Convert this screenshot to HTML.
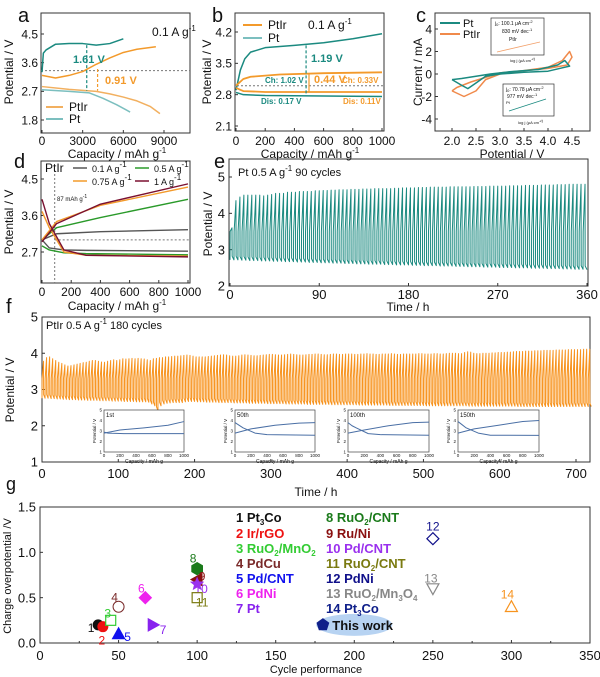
<!DOCTYPE html>
<html><head><meta charset="utf-8"><style>
html,body{margin:0;padding:0;background:#fff;}
svg{display:block;font-family:"Liberation Sans",Arial,sans-serif;}
</style></head><body>
<svg id="fig" width="600" height="677" viewBox="0 0 600 677"></svg>
<script>
// ---------- data ----------
// panel a
const aPtChgX=[0,100,300,1000,2000,3000,4000,5000,6000];
const aPtChgY=[3.3,3.9,4.0,4.18,4.2,4.2,4.15,4.2,4.35];
const aIrChgX=[0,1000,2000,3000,4000,5000,6000,7000,8400];
const aIrChgY=[3.2,3.12,3.2,3.32,3.55,3.75,3.92,4.02,4.1];
const aIrDisX=[0,2000,4000,5000,6000,7000,8000,8700];
const aIrDisY=[2.85,2.76,2.7,2.62,2.52,2.4,2.22,2.0];
const aPtDisX=[0,2000,3500,4500,5500,6500];
const aPtDisY=[2.75,2.7,2.65,2.48,2.28,2.05];
// panel b
const bPtChgX=[0,30,60,100,200,400,600,800,1000];
const bPtChgY=[2.9,3.35,3.6,3.75,3.85,3.9,3.96,4.05,4.16];
const bIrChgX=[0,50,100,300,600,1000];
const bIrChgY=[3.0,3.15,3.2,3.25,3.28,3.3];
const bIrDisX=[0,50,200,1000];
const bIrDisY=[2.95,2.88,2.86,2.86];
const bPtDisX=[0,50,200,1000];
const bPtDisY=[2.85,2.8,2.78,2.76];
// panel c (CV loops)
const cPtV=[2.0,2.2,2.33,2.5,2.7,3.0,3.5,4.0,4.3,4.45,4.35,4.2,3.8,3.2,2.8,2.5,2.2,2.0];
const cPtI=[-0.5,-1.0,-1.3,-0.8,-0.2,0.0,0.15,0.25,0.55,0.7,1.2,0.8,0.4,0.2,0.0,-0.2,-0.4,-0.5];
const cIrV=[2.0,2.25,2.5,2.7,3.0,3.5,4.0,4.3,4.45,4.5,4.4,4.0,3.5,3.0,2.7,2.4,2.1,2.0];
const cIrI=[-1.5,-2.0,-1.5,-0.5,0.0,0.3,0.6,1.2,2.0,1.5,0.8,0.5,0.3,0.1,-0.3,-0.7,-1.2,-1.5];
// panel d
const dCap=[0,100,400,1000];
const dChg01=[3.0,3.15,3.2,3.25];
const dChg05=[3.0,3.3,3.55,4.0];
const dChg075=[3.0,3.45,3.85,4.3];
const dChg1=[2.95,3.4,3.88,4.38];
const dDisCap=[0,50,150,300,1000];
const dDis01=[3.0,2.8,2.75,2.74,2.72];
const dDis05=[2.85,2.75,2.68,2.66,2.63];
const dDis075=[3.7,3.3,2.7,2.62,2.6];
const dDis1=[4.0,3.4,2.75,2.62,2.58];
// panel e: Pt 90 cycles (4 h each)
const eUpper=[3.6,4.35,4.45,4.5,4.5,4.5,4.5,4.5,4.48,4.5,
4.52,4.55,4.55,4.55,4.58,4.58,4.58,4.6,4.6,4.6,
4.6,4.62,4.62,4.63,4.63,4.64,4.64,4.65,4.65,4.65,
4.66,4.66,4.66,4.67,4.67,4.67,4.68,4.68,4.68,4.68,
4.68,4.69,4.69,4.7,4.7,4.7,4.7,4.71,4.71,4.71,
4.72,4.72,4.72,4.72,4.72,4.73,4.73,4.73,4.73,4.73,
4.73,4.74,4.74,4.74,4.74,4.75,4.75,4.75,4.75,4.75,
4.76,4.76,4.76,4.76,4.77,4.77,4.77,4.77,4.78,4.78,
4.78,4.78,4.79,4.79,4.79,4.8,4.8,4.8,4.8,4.8];
const eLower=[2.72,2.72,2.71,2.71,2.7,2.7,2.7,2.69,2.69,2.69,
2.68,2.68,2.68,2.67,2.67,2.67,2.66,2.66,2.66,2.65,
2.65,2.65,2.64,2.64,2.64,2.63,2.63,2.63,2.62,2.62,
2.62,2.61,2.61,2.61,2.6,2.6,2.6,2.6,2.59,2.59,
2.59,2.58,2.58,2.58,2.58,2.57,2.57,2.57,2.56,2.56,
2.56,2.56,2.55,2.55,2.55,2.55,2.54,2.54,2.54,2.53,
2.53,2.53,2.53,2.52,2.52,2.52,2.52,2.51,2.51,2.51,
2.51,2.5,2.5,2.5,2.5,2.49,2.49,2.49,2.49,2.48,
2.48,2.48,2.48,2.47,2.47,2.47,2.46,2.46,2.46,2.45];
// panel f: PtIr 180 cycles (4 h each)
const fUpper=[3.78,3.88,3.9,3.85,3.8,3.75,3.72,3.68,3.65,3.66,
3.68,3.7,3.72,3.74,3.75,3.78,3.8,3.8,3.78,3.76,
3.75,3.78,3.8,3.82,3.8,3.82,3.85,3.84,3.85,3.86,
3.85,3.86,3.85,3.84,3.82,3.8,3.85,3.86,3.88,3.88,
3.9,3.9,3.91,3.92,3.92,3.93,3.94,3.95,3.94,3.92,
3.9,3.9,3.9,3.9,3.91,3.92,3.93,3.94,3.95,3.96,
3.95,3.93,3.92,3.92,3.93,3.95,3.96,3.95,3.94,3.93,
3.93,3.94,3.95,3.96,3.97,3.97,3.96,3.95,3.95,3.96,
3.97,3.98,3.97,3.96,3.95,3.95,3.96,3.97,3.97,3.98,
3.98,3.97,3.96,3.96,3.97,3.98,3.98,3.97,3.97,3.98,
3.98,3.98,3.97,3.97,3.98,3.98,3.99,3.98,3.98,3.97,
3.97,3.98,3.98,3.98,3.99,3.98,3.97,3.97,3.98,3.98,
3.98,3.98,3.98,3.99,3.99,3.98,3.98,3.98,3.99,3.99,
3.98,3.98,3.99,4.0,4.0,4.0,3.99,3.99,4.02,4.04,
4.03,4.0,3.99,3.99,4.0,4.0,4.0,4.01,4.01,4.02,
4.02,4.02,4.03,4.03,4.04,4.05,4.05,4.05,4.06,4.06,
4.06,4.07,4.07,4.07,4.08,4.08,4.08,4.08,4.09,4.09,
4.09,4.09,4.1,4.1,4.1,4.1,4.1,4.11,4.11,4.11];
const fLower=[2.76,2.76,2.75,2.75,2.74,2.74,2.73,2.73,2.72,2.72,
2.72,2.71,2.71,2.71,2.7,2.7,2.7,2.7,2.69,2.69,
2.69,2.69,2.68,2.68,2.68,2.68,2.67,2.67,2.67,2.67,
2.66,2.66,2.66,2.66,2.65,2.6,2.55,2.42,2.55,2.6,
2.62,2.63,2.64,2.64,2.64,2.64,2.66,2.67,2.67,2.67,
2.66,2.66,2.66,2.65,2.65,2.65,2.65,2.64,2.64,2.64,
2.64,2.64,2.63,2.63,2.63,2.63,2.63,2.62,2.62,2.62,
2.62,2.62,2.62,2.61,2.61,2.61,2.61,2.61,2.61,2.6,
2.6,2.6,2.6,2.6,2.6,2.6,2.59,2.59,2.59,2.59,
2.59,2.59,2.59,2.59,2.58,2.58,2.58,2.58,2.58,2.58,
2.58,2.58,2.58,2.57,2.57,2.57,2.57,2.57,2.57,2.57,
2.57,2.57,2.57,2.56,2.56,2.56,2.56,2.56,2.56,2.56,
2.56,2.56,2.56,2.56,2.56,2.55,2.55,2.55,2.55,2.55,
2.55,2.55,2.55,2.55,2.55,2.55,2.55,2.55,2.55,2.54,
2.54,2.54,2.54,2.54,2.54,2.54,2.54,2.54,2.54,2.54,
2.54,2.54,2.54,2.54,2.54,2.53,2.53,2.53,2.53,2.53,
2.53,2.53,2.53,2.53,2.53,2.53,2.53,2.53,2.53,2.53,
2.53,2.53,2.53,2.53,2.53,2.53,2.53,2.53,2.53,2.53];
// f insets
const insNames=['1st','50th','100th','150th'];
const insChgCap=[0,200,500,800,1000];
const insChgV=[[2.8,3.1,3.3,3.55,3.9],[2.8,3.2,3.55,3.75,3.8],[2.8,3.1,3.5,3.8,3.85],[2.8,3.2,3.55,3.9,4.0]];
const insDisCap=[0,50,100,250,400,1000];
const insDisV=[[2.9,2.8,2.78,2.75,2.75,2.75],[3.8,3.55,3.3,2.8,2.65,2.6],[3.8,3.5,3.3,2.75,2.65,2.6],[3.9,3.6,3.3,2.8,2.6,2.58]];
// panel g
const gCycles=[37,40,45,50,50,67,72,100,100,100,100,250,250,300,180];
const gOver=[0.2,0.18,0.25,0.4,0.1,0.5,0.2,0.82,0.7,0.65,0.5,1.15,0.6,0.4,0.2];
const gIds=['1','2','3','4','5','6','7','8','9','10','11','12','13','14',''];
const gXTicks=[0,50,100,150,200,250,300,350];
const gYTicks=[0,0.5,1.0,1.5];

// ---------- helpers ----------
const svg=document.getElementById('fig');
const NS='http://www.w3.org/2000/svg';
function mk(tag,attrs,parent){const e=document.createElementNS(NS,tag);for(const k in attrs)e.setAttribute(k,attrs[k]);(parent||svg).appendChild(e);return e;}
function lin(d0,d1,r0,r1){return v=>r0+(v-d0)/(d1-d0)*(r1-r0);}
function T(s,x,y,size,anchor,fill,parent,weight){const e=mk('text',{x:x,y:y,'font-size':size,'text-anchor':anchor||'start',fill:fill||'#111','font-weight':weight||'normal'},parent);e.innerHTML=s;return e;}
function pathD(xs,ys,sx,sy){return xs.map((v,i)=>(i?'L':'M')+sx(v).toFixed(2)+' '+sy(ys[i]).toFixed(2)).join(' ');}
function series(xs,ys,sx,sy,color,w,parent,dash){return mk('path',{d:pathD(xs,ys,sx,sy),fill:'none',stroke:color,'stroke-width':w,'stroke-linejoin':'round','stroke-dasharray':dash||'none'},parent);}
const SUP='<tspan dy="-5" font-size="8">-1</tspan>';
function axes(g,fr,sx,xt,xl,sy,yt,yl,fs,gap,lbY){
  mk('rect',{x:fr[0],y:fr[2],width:fr[1]-fr[0],height:fr[3]-fr[2],fill:'none',stroke:'#333','stroke-width':1},g);
  xt.forEach((v,i)=>{const x=sx(v);mk('line',{x1:x,x2:x,y1:fr[3],y2:fr[3]-3,stroke:'#333'},g);T(xl[i],x,lbY||(fr[3]+fs+2),fs,'middle','#111',g);});
  yt.forEach((v,i)=>{const y=sy(v);mk('line',{x1:fr[0],x2:fr[0]+3,y1:y,y2:y,stroke:'#333'},g);T(yl[i],fr[0]-(gap||3),y+fs*0.36,fs,'end','#111',g);});
}
function ytitle(s,x,y,g,fs){const e=T(s,x,y,fs||12,'middle','#111',g);e.setAttribute('transform','rotate(-90 '+x+' '+y+')');return e;}
const TEAL='#1b8a80', ORANGE='#f39a2b', PTDIS='#7cbfbf';

// ---------- panel a ----------
const ga=mk('g',{});


{const sx=lin(0,9000,42,164),sy=lin(1.8,4.5,120,34);
axes(ga,[41,190,13,133],sx,[0,3000,6000,9000],['0','3000','6000','9000'],sy,[1.8,2.7,3.6,4.5],['1.8','2.7','3.6','4.5'],12,3,145);
mk('line',{x1:41,x2:190,y1:sy(3.35),y2:sy(3.35),stroke:'#777','stroke-dasharray':'2 2'},ga);
let s=series(aPtChgX,aPtChgY,sx,sy,TEAL,1.5,ga);
s=series(aIrChgX,aIrChgY,sx,sy,ORANGE,1.5,ga);
s=series(aIrDisX,aIrDisY,sx,sy,'#f2b060',1.5,ga);
s=series(aPtDisX,aPtDisY,sx,sy,PTDIS,1.5,ga);
mk('line',{x1:sx(3300),x2:sx(3300),y1:sy(4.15),y2:sy(2.72),stroke:TEAL,'stroke-dasharray':'3 2','stroke-width':1.2},ga);
mk('line',{x1:sx(4100),x2:sx(4100),y1:sy(3.4),y2:sy(2.72),stroke:ORANGE,'stroke-dasharray':'3 2','stroke-width':1.2},ga);
T('1.61 V',73,63,11,'start',TEAL,ga,'bold');T('0.91 V',105,84,11,'start',ORANGE,ga,'bold');
T('0.1 A g'+SUP,152,36,12,'start','#111',ga);
mk('line',{x1:46,x2:63,y1:107,y2:107,stroke:'#f2b060','stroke-width':2},ga);T('PtIr',69,111,12,'start','#111',ga);
mk('line',{x1:46,x2:63,y1:119,y2:119,stroke:PTDIS,'stroke-width':2},ga);T('Pt',69,123,12,'start','#111',ga);
T('Capacity / mAh g'+SUP,117,158,12,'middle','#111',ga);ytitle('Potential / V',13,72,ga);
T('a',18,22,20,'start','#111',ga);}

// ---------- panel b ----------
const gb=mk('g',{});


{const sx=lin(0,1000,236,382),sy=lin(2.1,4.2,126,32);
axes(gb,[235,384,13,131],sx,[0,200,400,600,800,1000],['0','200','400','600','800','1000'],sy,[2.1,2.8,3.5,4.2],['2.1','2.8','3.5','4.2'],12,3,145);
mk('line',{x1:237,x2:384,y1:sy(3.0),y2:sy(3.0),stroke:'#777','stroke-dasharray':'2 2'},gb);
let s=series(bPtChgX,bPtChgY,sx,sy,TEAL,1.5,gb);
s=series(bIrChgX,bIrChgY,sx,sy,ORANGE,1.8,gb);
s=series(bIrDisX,bIrDisY,sx,sy,ORANGE,1.8,gb);
s=series(bPtDisX,bPtDisY,sx,sy,TEAL,1.5,gb);
mk('line',{x1:sx(480),x2:sx(480),y1:sy(3.9),y2:sy(2.78),stroke:TEAL,'stroke-dasharray':'3 2','stroke-width':1.2},gb);
mk('line',{x1:sx(500),x2:sx(500),y1:sy(3.27),y2:sy(2.87),stroke:ORANGE,'stroke-width':1.2},gb);
T('1.19 V',311,62,11,'start',TEAL,gb,'bold');
T('Ch: 1.02 V',265,83,8,'start',TEAL,gb,'bold');T('0.44 V',314,83,11,'start',ORANGE,gb,'bold');T('Ch: 0.33V',342,83,8,'start',ORANGE,gb,'bold');
T('Dis:  0.17 V',261,104,8,'start',TEAL,gb,'bold');T('Dis: 0.11V',343,104,8,'start',ORANGE,gb,'bold');
mk('line',{x1:243,x2:262,y1:25,y2:25,stroke:ORANGE,'stroke-width':2},gb);T('PtIr',268,29,12,'start','#111',gb);
mk('line',{x1:243,x2:262,y1:38,y2:38,stroke:PTDIS,'stroke-width':2},gb);T('Pt',268,42,12,'start','#111',gb);
T('0.1 A g'+SUP,308,29,12,'start','#111',gb);
T('Capacity / mAh g'+SUP,310,158,12,'middle','#111',gb);ytitle('Potential / V',211,72,gb);
T('b',212,22,20,'start','#111',gb);}

// ---------- panel c ----------
const gc=mk('g',{});


{const sx=lin(2.0,4.5,452,572),sy=lin(-4,4,119,29);
axes(gc,[435,590,13,131],sx,[2.0,2.5,3.0,3.5,4.0,4.5],['2.0','2.5','3.0','3.5','4.0','4.5'],sy,[-4,-2,0,2,4],['-4','-2','0','2','4'],12,3,145);
let s=series(cIrV,cIrI,sx,sy,'#f08a4b',1.5,gc);
s=series(cPtV,cPtI,sx,sy,TEAL,1.5,gc);
mk('line',{x1:440,x2:460,y1:23,y2:23,stroke:TEAL,'stroke-width':2},gc);T('Pt',463,27,11,'start','#111',gc);
mk('line',{x1:440,x2:460,y1:34,y2:34,stroke:'#f08a4b','stroke-width':2},gc);T('PtIr',463,38,11,'start','#111',gc);
mk('rect',{x:491,y:18,width:53,height:37,fill:'#fff',stroke:'#333','stroke-width':0.7},gc);
T('j<tspan dy="1" font-size="4">0</tspan><tspan dy="-1">: 100.1 μA cm</tspan><tspan dy="-2" font-size="4">-2</tspan>',495,25,5,'start','#111',gc);
T('830 mV dec<tspan dy="-2" font-size="4">-1</tspan>',502,33,5,'start','#111',gc);T('PtIr',509,41,5,'start','#111',gc);
mk('line',{x1:497,x2:540,y1:52,y2:42,stroke:'#f2a06a','stroke-width':0.8},gc);
T('log j (μA cm<tspan dy="-2" font-size="3">-2</tspan>)',510,62,4,'start','#111',gc);
mk('rect',{x:503,y:84,width:51,height:32,fill:'#fff',stroke:'#333','stroke-width':0.7},gc);
T('j<tspan dy="1" font-size="4">0</tspan><tspan dy="-1">: 70.78 μA cm</tspan><tspan dy="-2" font-size="4">-2</tspan>',506,91,5,'start','#111',gc);
T('977 mV dec<tspan dy="-2" font-size="4">-1</tspan>',507,98,5,'start','#111',gc);T('Pt',506,104,4,'start','#111',gc);
mk('line',{x1:509,x2:546,y1:111,y2:99,stroke:TEAL,'stroke-width':0.8},gc);
T('log j (μA cm<tspan dy="-2" font-size="3">-2</tspan>)',518,124,4,'start','#111',gc);
T('Potential / V',512,158,12,'middle','#111',gc);ytitle('Current / mA',422,72,gc);
T('c',416,22,20,'start','#111',gc);}

// ---------- panel d ----------
const gd=mk('g',{});


{const sx=lin(0,1000,42,188),sy=lin(2.7,4.5,252,179);
axes(gd,[41,190,161,283],sx,[0,200,400,600,800,1000],['0','200','400','600','800','1000'],sy,[2.7,3.6,4.5],['2.7','3.6','4.5'],12,3,296);
mk('line',{x1:sx(87),x2:190,y1:sy(3.0),y2:sy(3.0),stroke:'#777','stroke-dasharray':'2 2'},gd);
mk('line',{x1:sx(87),x2:sx(87),y1:170,y2:283,stroke:'#777','stroke-dasharray':'2 2'},gd);
const cols=['#555','#2a9a2a',ORANGE,'#7a1030'];
const chg=[dChg01,dChg05,dChg075,dChg1],dis=[dDis01,dDis05,dDis075,dDis1],nm=['0-1','0-5','0-75','1'];
for(let i=0;i<4;i++){
 let s=series(dCap,chg[i],sx,sy,cols[i],1.4,gd);
 s=series(dDisCap,dis[i],sx,sy,cols[i],1.4,gd);}
T('PtIr',45,172,12,'start','#111',gd);
const lt=['0.1 A g'+SUP,'0.5 A g'+SUP,'0.75 A g'+SUP,'1 A g'+SUP],lx=[73,135,73,135],ly=[168,168,181,181];
for(let i=0;i<4;i++){mk('line',{x1:lx[i],x2:lx[i]+14,y1:ly[i],y2:ly[i],stroke:cols[i],'stroke-width':1.5},gd);T(lt[i],lx[i]+19,ly[i]+4,9,'start','#111',gd);}
T('87 mAh g<tspan dy="-3" font-size="5">-1</tspan>',57,201,6,'start','#111',gd);
T('Capacity / mAh g'+SUP,117,310,12,'middle','#111',gd);ytitle('Potential / V',13,222,gd);
T('d',14,168,20,'start','#111',gd);}

// ---------- panel e ----------
const ge=mk('g',{});


{const sx=lin(0,360,230,587),sy=lin(2,5,286,177);
axes(ge,[229,588,159,286],sx,[0,90,180,270,360],['0','90','180','270','360'],sy,[2,3,4,5],['2','3','4','5'],13,4,299);
const ts=[],vs=[];
eUpper.forEach((u,i)=>{const t=i*4;ts.push(t,t+0.15,t+2,t+2.15,t+4);vs.push(i?eLower[i-1]:eLower[0],3.5,u,eLower[i]+0.1,eLower[i]);});
let s=series(ts,vs,sx,sy,TEAL,1,ge);
T('Pt 0.5 A g'+SUP+'<tspan dy="5"> 90 cycles</tspan>',238,176,11,'start','#111',ge);
T('Time / h',408,311,12,'middle','#111',ge);ytitle('Potential / V',212,224,ge);
T('e',214,168,20,'start','#111',ge);}

// ---------- panel f ----------
const gf=mk('g',{});


{const sx=lin(0,700,42,576),sy=lin(1,5,462,317);
axes(gf,[42,590,317,462],sx,[0,100,200,300,400,500,600,700],['0','100','200','300','400','500','600','700'],sy,[1,2,3,4,5],['1','2','3','4','5'],13,4,478);
const ts=[],vs=[];
fUpper.forEach((u,i)=>{const t=i*4;ts.push(t,t+0.15,t+2,t+2.15,t+4);vs.push(i?fLower[i-1]:fLower[0],3.3,u,fLower[i]+0.1,fLower[i]);});
let s=series(ts,vs,sx,sy,'#f7931e',1,gf);
T('PtIr 0.5 A g'+SUP+'<tspan dy="5"> 180 cycles</tspan>',46,329,11,'start','#111',gf);
const ix=[[104,184],[235,315],[348,429],[458,539]];
for(let k=0;k<4;k++){
 const ig=mk('g',{},gf);
 
 
 const isx=lin(0,1000,ix[k][0],ix[k][1]),isy=lin(1,5,452,410);
 mk('rect',{x:ix[k][0],y:410,width:ix[k][1]-ix[k][0],height:42,fill:'#fff',stroke:'#444','stroke-width':0.7},ig);
 [0,200,400,600,800,1000].forEach(v=>T(String(v),isx(v),457,4.5,'middle','#111',ig));
 [1,2,3,4,5].forEach(v=>T(String(v),ix[k][0]-2,isy(v)+1.5,4.5,'end','#111',ig));
 let c=series(insChgCap,insChgV[k],isx,isy,'#4a6fa5',1,ig);
 c=series(insDisCap,insDisV[k],isx,isy,'#4a6fa5',1,ig);
 T(insNames[k],ix[k][0]+2,417,6,'start','#111',ig);
 T('Capacity / mAh g',(ix[k][0]+ix[k][1])/2,463,5,'middle','#111',ig);
 const yt=T('Potential / V',ix[k][0]-8,431,4.5,'middle','#111',ig);yt.setAttribute('transform','rotate(-90 '+(ix[k][0]-8)+' 431)');}
T('Time / h',316,496,12,'middle','#111',gf);ytitle('Potential / V',14,390,gf);
T('f',6,313,20,'start','#111',gf);}

// ---------- panel g ----------
const gg=mk('g',{});


{const sx=lin(0,350,40,590),sy=lin(0,1.5,643,507);
axes(gg,[40,590,507,643],sx,gXTicks,gXTicks.map(String),sy,gYTicks,['0.0','0.5','1.0','1.5'],13,4,660);
gXTicks.slice(0,-1).forEach(v=>{const x=sx(v+25);mk('line',{x1:x,x2:x,y1:643,y2:641,stroke:'#333'},gg);});
mk('ellipse',{cx:sx(200),cy:sy(0.2),rx:38,ry:11,fill:'#b7d3f2'},gg);
const cols=['#111','#e11','#3c3','#7a2a2a','#11e','#e2e','#82e','#1a7a1a','#8a1010','#9a30ee','#7a7a10','#10108a','#888','#f7931e','#10208a'];
const shp=['circ','circ','sq','ocirc','tri','dia','rtri','hex','ltri','star','sq','dia','dtri','otri','pent'];
const lab=[[-7,3],[-1,14],[-3,-7],[-4,-9],[9,3],[-4,-9],[10,5],[-4,-10],[5,-3],[4,5],[5,5],[0,-12],[-2,-10],[-4,-12],[0,0]];
gCycles.forEach((c,i)=>{
 const x=sx(c),y=sy(gOver[i]),col=cols[i],r=6;let el;
 if(shp[i]=='circ')el=mk('circle',{cx:x,cy:y,r:5,fill:col,stroke:col},gg);
 else if(shp[i]=='ocirc')el=mk('circle',{cx:x,cy:y,r:5.5,fill:'none',stroke:col,'stroke-width':1},gg);
 else if(shp[i]=='sq')el=mk('rect',{x:x-5,y:y-5,width:10,height:10,fill:'#fff',stroke:col,'stroke-width':1.2},gg);
 else{let p;
  if(shp[i]=='tri')p=[[0,-r],[r,r*0.8],[-r,r*0.8]];
  else if(shp[i]=='otri')p=[[0,-r],[r,r*0.8],[-r,r*0.8]];
  else if(shp[i]=='dtri')p=[[0,r],[r,-r*0.8],[-r,-r*0.8]];
  else if(shp[i]=='rtri')p=[[r,0],[-r*0.8,-r],[-r*0.8,r]];
  else if(shp[i]=='ltri')p=[[-r,0],[r*0.8,-r],[r*0.8,r]];
  else if(shp[i]=='dia')p=[[0,-r],[r,0],[0,r],[-r,0]];
  else if(shp[i]=='hex')p=[[0,-r],[r*0.87,-r/2],[r*0.87,r/2],[0,r],[-r*0.87,r/2],[-r*0.87,-r/2]];
  else if(shp[i]=='pent')p=[0,1,2,3,4].map(k=>[r*Math.sin(k*1.2566),-r*Math.cos(k*1.2566)]);
  else p=[0,1,2,3,4,5,6,7,8,9].map(k=>{const rr=k%2?r*0.45:r;return[rr*Math.sin(k*0.6283),-rr*Math.cos(k*0.6283)];});
  const open=(shp[i]=='otri'||shp[i]=='dtri'||(shp[i]=='dia'&&i==11));
  el=mk('polygon',{points:p.map(q=>(x+q[0]).toFixed(1)+','+(y+q[1]).toFixed(1)).join(' '),fill:open?'#fff':col,stroke:col,'stroke-width':1.2},gg);}
 
 
 if(gIds[i])T(gIds[i],x+lab[i][0],y+lab[i][1]+4,12,'middle',col,gg);});
T('This work',sx(186),sy(0.2)+5,13,'start','#111',gg,'bold');
const L1=['1 Pt<tspan dy="3" font-size="8">3</tspan><tspan dy="-3">Co</tspan>','2 Ir/rGO','3 RuO<tspan dy="3" font-size="8">2</tspan><tspan dy="-3">/MnO</tspan><tspan dy="3" font-size="8">2</tspan>','4 PdCu','5 Pd/CNT','6 PdNi','7 Pt'];
const L2=['8 RuO<tspan dy="3" font-size="8">2</tspan><tspan dy="-3">/CNT</tspan>','9 Ru/Ni','10 Pd/CNT','11 RuO<tspan dy="3" font-size="8">2</tspan><tspan dy="-3">/CNT</tspan>','12 PdNi','13 RuO<tspan dy="3" font-size="8">2</tspan><tspan dy="-3">/Mn</tspan><tspan dy="3" font-size="8">3</tspan><tspan dy="-3">O</tspan><tspan dy="3" font-size="8">4</tspan>','14 Pt<tspan dy="3" font-size="8">3</tspan><tspan dy="-3">Co</tspan>'];
const C1=['#111','#e11','#3c3','#7a2a2a','#11e','#e2e','#82e'],C2=['#1a7a1a','#8a1010','#9a30ee','#7a7a10','#10108a','#888','#10208a'];
const ly=[522,538,553,568,583,598,613];
for(let i=0;i<7;i++){T(L1[i],236,ly[i],13,'start',C1[i],gg,'bold');T(L2[i],326,ly[i],13,'start',C2[i],gg,'bold');}
T('Cycle performance',316,673,11,'middle','#111',gg);ytitle('Charge overpotential /V',11,576,gg,11);
T('g',6,490,18,'start','#111',gg);}
</script>
</body></html>
